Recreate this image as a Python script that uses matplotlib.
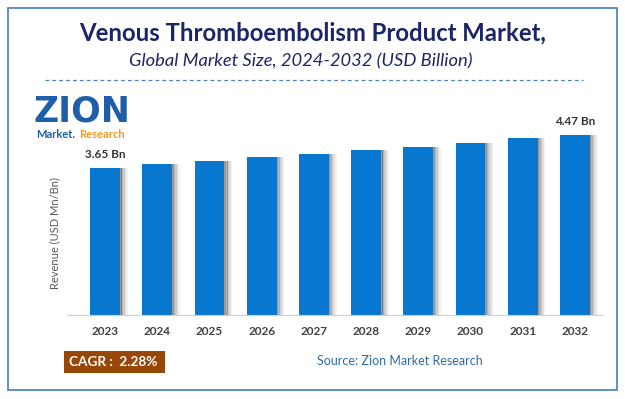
import numpy as np
import matplotlib.pyplot as plt
from matplotlib.patches import Rectangle

years = ['2023', '2024', '2025', '2026', '2027', '2028', '2029', '2030', '2031', '2032']
values = [3.65, 3.74, 3.83, 3.91, 4.00, 4.09, 4.18, 4.28, 4.38, 4.47]
first_label = '3.65 Bn'
last_label = '4.47 Bn'

W, H = 625, 399
fig = plt.figure(figsize=(W / 100, H / 100), dpi=100)
plt.rcParams['font.family'] = ['Lato', 'DejaVu Sans']


def fx(px):
    return px / W


def fy(py):
    return 1 - py / H


# outer border
fig.patches.append(Rectangle((fx(8), fy(390)), fx(609), 382 / H, transform=fig.transFigure,
                             fill=False, edgecolor='#3f7fc6', linewidth=1.2))

# titles
fig.text(fx(313), fy(33), 'Venous Thromboembolism Product Market,', ha='center', va='center',
         fontsize=17.2, fontweight='bold', color='#1c2566')
fig.text(fx(301), fy(61), 'Global Market Size, 2024-2032 (USD Billion)', ha='center', va='center',
         fontsize=13.2, style='italic', color='#1c2566')
fig.lines.append(plt.Line2D([fx(45), fx(583)], [fy(80), fy(80)], transform=fig.transFigure,
                            color='#4a7fc0', linewidth=0.9, linestyle=(0, (3, 2.5))))

# logo
fig.text(fx(82), fy(112), 'ZION', ha='center', va='center', fontsize=25, fontweight='bold',
         color='#1f5ea8', family='DejaVu Sans')
fig.text(fx(36), fy(134), 'Market.', ha='left', va='center', fontsize=8, fontweight='bold',
         color='#1f5ea8')
fig.text(fx(79), fy(134), 'Research', ha='left', va='center', fontsize=8, fontweight='bold',
         color='#f39a1e')

# chart
ax = fig.add_axes([fx(67), fy(315), fx(603 - 67), (315 - 95) / H])
x = np.arange(len(years))
bw = 0.57
# soft shadow to the right of each bar
for k, a in enumerate([0.6, 0.45, 0.3, 0.18, 0.08]):
    ax.bar(x + bw / 2 + 0.015 + k * 0.03, values, width=0.032, color='#555555', alpha=a,
           align='center', zorder=1, linewidth=0)
ax.bar(x, values, width=bw, color='#0877cf', zorder=2)
ax.set_xlim(-0.73, 9.54)
ax.set_ylim(0, (315 - 95) / 40.3)
ax.set_xticks(x)
ax.set_xticklabels(years, fontsize=8.5, fontweight='bold', color='#404040')
ax.tick_params(axis='x', length=0, pad=8)
ax.set_yticks([])
for s in ['top', 'right', 'left']:
    ax.spines[s].set_visible(False)
ax.spines['bottom'].set_color('#d0d0d0')
fig.text(fx(55), fy(233), 'Revenue (USD Mn/Bn)', rotation=90, ha='center', va='center',
         fontsize=8, color='#595959')

ax.text(x[0], values[0] + 0.2, first_label, ha='center', va='bottom', fontsize=8.5,
        fontweight='bold', color='#333333')
ax.text(x[-1], values[-1] + 0.2, last_label, ha='center', va='bottom', fontsize=8.5,
        fontweight='bold', color='#333333')

# footer
fig.patches.append(Rectangle((fx(64), fy(373)), fx(101), 22 / H, transform=fig.transFigure,
                             facecolor='#984708', edgecolor='none'))
fig.text(fx(69), fy(362), 'CAGR :  2.28%', ha='left', va='center', fontsize=9.8,
         fontweight='bold', color='white')
fig.text(fx(483), fy(361), 'Source: Zion Market Research', ha='right', va='center',
         fontsize=9, color='#2f6aa6')

fig.savefig('out.png', dpi=100)
